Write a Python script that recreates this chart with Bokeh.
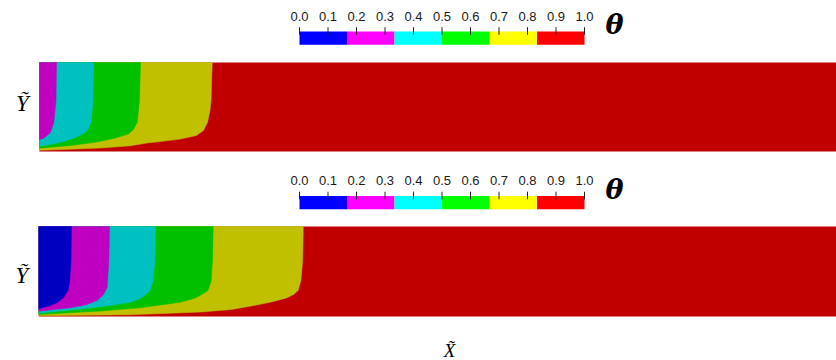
from bokeh.plotting import figure
from bokeh.models import Range1d, Label
from bokeh.core.properties import value
from bokeh.embed import file_html
from bokeh.resources import INLINE

# ---------------- data ----------------
theta_ticks = [0.0, 0.1, 0.2, 0.3, 0.4, 0.5, 0.6, 0.7, 0.8, 0.9, 1.0]
theta_tick_labels = ["0.0", "0.1", "0.2", "0.3", "0.4", "0.5", "0.6", "0.7", "0.8", "0.9", "1.0"]
band_edges = [0.0, 1/6, 2/6, 3/6, 4/6, 5/6, 1.0]
bar_colors = ["#0000FF", "#FF00FF", "#00FFFF", "#00FF00", "#FFFF00", "#FF0000"]
field_colors = ["#0000C0", "#C000C0", "#00C0C0", "#00C000", "#C0C000", "#C00000"]

domain_x = [0.0, 8.86]   # X~ extent shown
domain_y = [0.0, 1.0]    # Y~ extent

# iso-theta boundaries (X~, Y~), from the top wall down to the left edge near the bottom wall
# top panel
top_l2_x = [0.189, 0.183, 0.159, 0.122, 0.044, 0.0]
top_l2_y = [1.0, 0.573, 0.329, 0.213, 0.146, 0.135]
top_l3_x = [0.603, 0.594, 0.574, 0.533, 0.489, 0.400, 0.267, 0.122, 0.0]
top_l3_y = [1.0, 0.573, 0.329, 0.236, 0.202, 0.157, 0.112, 0.079, 0.060]
top_l4_x = [1.122, 1.111, 1.086, 1.044, 0.989, 0.844, 0.641, 0.344, 0.0]
top_l4_y = [1.0, 0.573, 0.329, 0.247, 0.197, 0.152, 0.107, 0.067, 0.037]
top_l5_x = [1.919, 1.906, 1.894, 1.867, 1.822, 1.744, 1.567, 1.344, 1.197, 1.011, 0.678, 0.344, 0.0]
top_l5_y = [1.0, 0.573, 0.461, 0.329, 0.236, 0.180, 0.140, 0.112, 0.096, 0.064, 0.039, 0.025, 0.013]

# bottom panel
bot_l1_x = [0.363, 0.358, 0.344, 0.324, 0.278, 0.208, 0.130, 0.0]
bot_l1_y = [1.0, 0.622, 0.400, 0.289, 0.214, 0.156, 0.122, 0.086]
bot_l2_x = [0.786, 0.778, 0.760, 0.719, 0.649, 0.519, 0.352, 0.0]
bot_l2_y = [1.0, 0.622, 0.326, 0.244, 0.178, 0.128, 0.097, 0.059]
bot_l3_x = [1.297, 1.289, 1.271, 1.236, 1.204, 1.130, 1.019, 0.797, 0.463, 0.0]
bot_l3_y = [1.0, 0.622, 0.400, 0.289, 0.256, 0.200, 0.159, 0.122, 0.083, 0.037]
bot_l4_x = [1.938, 1.930, 1.916, 1.880, 1.830, 1.741, 1.574, 1.352, 1.130, 0.686, 0.0]
bot_l4_y = [1.0, 0.622, 0.400, 0.289, 0.256, 0.206, 0.159, 0.128, 0.097, 0.061, 0.022]
bot_l5_x = [2.939, 2.931, 2.912, 2.881, 2.831, 2.753, 2.586, 2.363, 2.141, 1.808, 1.019, 0.0]
bot_l5_y = [1.0, 0.622, 0.400, 0.289, 0.244, 0.206, 0.161, 0.117, 0.078, 0.050, 0.019, 0.008]

# level index -> curve; region theta < level k/6 gets colour field_colors[k-1]
top_curves = {5: (top_l5_x, top_l5_y), 4: (top_l4_x, top_l4_y),
              3: (top_l3_x, top_l3_y), 2: (top_l2_x, top_l2_y)}
bot_curves = {5: (bot_l5_x, bot_l5_y), 4: (bot_l4_x, bot_l4_y), 3: (bot_l3_x, bot_l3_y),
              2: (bot_l2_x, bot_l2_y), 1: (bot_l1_x, bot_l1_y)}

# ---------------- layout (canvas pixels, origin top-left) ----------------
W, H = 836, 360
SERIF = "Liberation Serif"
SANS = "Liberation Sans"


def hrange(px_at_zero, px_per_unit):
    start = -px_at_zero / px_per_unit
    return Range1d(start, start + W / px_per_unit)


def vrange(px_at_zero, px_per_unit):
    # px_at_zero measured from the top of the canvas
    return Range1d(-(H - px_at_zero) / px_per_unit, px_at_zero / px_per_unit)


p = figure(width=W, height=H, output_backend="svg", toolbar_location=None,
           x_range=Range1d(0, W), y_range=Range1d(0, H),
           x_axis_location=None, y_axis_location=None, min_border=0)
p.outline_line_color = None
p.grid.grid_line_color = None
p.background_fill_color = "white"
p.border_fill_color = "white"

panels = [
    # name, x px of X=0, px/unit x, y px of Y=0, px/unit y, curves, Y-label y
    ("f1", 39.0, 90.0, 151.0, 89.0, top_curves, 0.54),
    ("f2", 38.3, 90.0, 316.0, 90.0, bot_curves, 0.46),
]
bars = [
    # name, y px of bar bottom, bar height px
    ("c1", 44.3, 13.3),
    ("c2", 208.8, 13.3),
]
BAR_X0, BAR_W = 299.0, 285.0

for name, x0, sx, y0, sy, curves, ylab in panels:
    p.extra_x_ranges[name] = hrange(x0, sx)
    p.extra_y_ranges[name] = vrange(y0, sy)
    kw = dict(x_range_name=name, y_range_name=name)
    p.quad(left=domain_x[0], right=domain_x[1], bottom=domain_y[0], top=domain_y[1],
           color=field_colors[5], line_color=None, **kw)
    xs, ys, cols = [], [], []
    for lev in sorted(curves.keys(), reverse=True):
        cx, cy = curves[lev]
        xs.append([domain_x[0]] + list(cx))
        ys.append([domain_y[1]] + list(cy))
        cols.append(field_colors[lev - 1])
    p.patches(xs=xs, ys=ys, fill_color=cols, line_color=cols, line_width=0.5, **kw)
    p.add_layout(Label(x=-17 / sx, y=ylab, text="Ỹ", text_font=SERIF,
                       text_font_style="italic", text_font_size="23px",
                       text_align="center", text_baseline="middle", text_color="#000000",
                       **kw))

for name, yb, bh in bars:
    p.extra_x_ranges[name] = hrange(BAR_X0, BAR_W)
    p.extra_y_ranges[name] = vrange(yb, bh)
    kw = dict(x_range_name=name, y_range_name=name)
    p.quad(left=band_edges[:-1], right=band_edges[1:], bottom=0, top=1,
           color=bar_colors, line_color=None, **kw)
    p.segment(x0=theta_ticks, x1=theta_ticks, y0=1 + 4.3 / bh, y1=1 - 3.3 / bh,
              line_color="#222222", line_width=1, **kw)
    p.text(x=theta_ticks, y=1 + 15.3 / bh, text=theta_tick_labels,
           text_font=value(SANS), text_font_size=value("13px"), text_color="#1a1a1a",
           text_align="center", text_baseline="middle", **kw)
    p.add_layout(Label(x=1 + 30 / BAR_W, y=1 + 7 / bh, text="θ", text_font="DejaVu Serif",
                       text_font_style="bold italic", text_font_size="27px",
                       text_align="center", text_baseline="middle", text_color="#000000",
                       **kw))

p.add_layout(Label(x=4.563, y=-0.378, text="X\u0303", text_font=SERIF,
                   text_font_style="italic", text_font_size="19px",
                   text_align="center", text_baseline="middle", text_color="#000000",
                   x_range_name="f2", y_range_name="f2"))

open("out.html", "w").write(file_html(p, INLINE))
